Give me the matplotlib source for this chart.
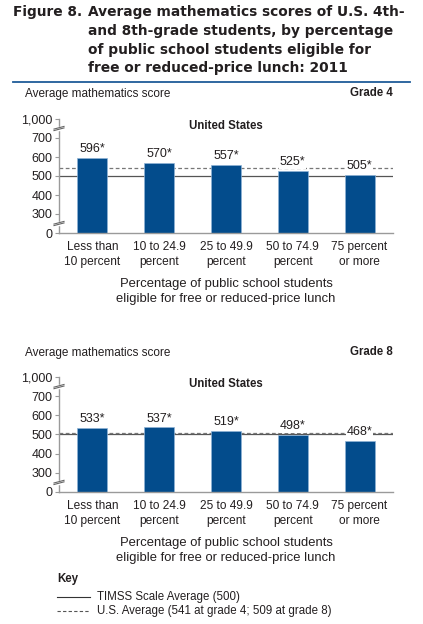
import numpy as np
import matplotlib
matplotlib.use('Agg')
import matplotlib.pyplot as plt
from matplotlib.lines import Line2D

# data
categories = ['Less than\n10 percent', '10 to 24.9\npercent', '25 to 49.9\npercent',
              '50 to 74.9\npercent', '75 percent\nor more']
grade4_scores = [596, 570, 557, 525, 505]
grade8_scores = [533, 537, 519, 498, 468]
timss_avg = 500
us_avg = {'Grade 4': 541, 'Grade 8': 509}
yticks = [0, 300, 400, 500, 600, 700, 1000]
ytick_labels = ['0', '300', '400', '500', '600', '700', '1,000']

plt.rcParams['font.family'] = ['Liberation Sans', 'DejaVu Sans']
txt_col = '#231f20'
bar_col = '#034c8c'
axis_col = '#9a9a9a'

# broken axis: 0-300 and 700-1000 squeezed into one step each
brk_in = [0, 300, 700, 1000]
brk_out = [200, 300, 700, 800]
def fwd(v):
    return np.interp(v, brk_in, brk_out)
def inv(v):
    return np.interp(v, brk_out, brk_in)

W, H = 423, 624
fig = plt.figure(figsize=(W/100, H/100), dpi=100)

def fx(px):
    return px / W
def fy(py):
    return 1 - py / H

# title
fig.text(fx(13), fy(12), 'Figure 8.', fontsize=9.9, fontweight='bold', family='DejaVu Sans',
         color=txt_col, va='center', ha='left')
title_lines = ['Average mathematics scores of U.S. 4th-',
               'and 8th-grade students, by percentage',
               'of public school students eligible for',
               'free or reduced-price lunch: 2011']
for i, line in enumerate(title_lines):
    fig.text(fx(88), fy(12 + i * 18.8), line, fontsize=9.9, fontweight='bold',
             family='DejaVu Sans', color=txt_col, va='center', ha='left')
fig.add_artist(Line2D([fx(13), fx(410)], [fy(82), fy(82)], color='#1f5c99', lw=1.3))

def panel(top_px, ax_top, ax_bot, scores, grade):
    fig.text(fx(25), fy(top_px), 'Average mathematics score', fontsize=8.5, color=txt_col,
             va='center', ha='left')
    fig.text(fx(393), fy(top_px - 1), grade, fontsize=8.3, fontweight='bold', color=txt_col,
             va='center', ha='right')
    ax = fig.add_axes([fx(59), fy(ax_bot), fx(393) - fx(59), fy(ax_top) - fy(ax_bot)])
    ax.set_yscale('function', functions=(fwd, inv))
    x = np.arange(len(scores))
    ax.axhline(timss_avg, color='#555555', lw=0.9, zorder=1)
    ax.axhline(us_avg[grade], color='#777777', lw=0.9, ls=(0, (3, 2)), zorder=1)
    bars = ax.bar(x, scores, width=0.45, color=bar_col, edgecolor='#8fb3d6', lw=0.5, zorder=2)
    for b, s in zip(bars, scores):
        ax.annotate(f'{s}*', (b.get_x() + b.get_width() / 2, s), xytext=(0, 2),
                    textcoords='offset points', ha='center', va='bottom', fontsize=9,
                    color=txt_col, zorder=4,
                    bbox=dict(boxstyle='square,pad=0.05', fc='white', ec='none'))
    ax.set_xlim(-0.5, len(scores) - 0.5)
    ax.set_ylim(0, 1000)
    ax.set_yticks(yticks)
    ax.set_yticklabels(ytick_labels)
    ax.set_xticks(x)
    ax.set_xticklabels(categories, linespacing=1.35)
    ax.tick_params(axis='x', length=0, pad=6, labelsize=8.6, labelcolor=txt_col)
    ax.tick_params(axis='y', length=3, width=0.8, color=axis_col, pad=1.5,
                   labelsize=9, labelcolor=txt_col)
    ax.minorticks_off()
    for side in ['top', 'right']:
        ax.spines[side].set_visible(False)
    for side in ['left', 'bottom']:
        ax.spines[side].set_color(axis_col)
        ax.spines[side].set_linewidth(1.0)
    ax.set_xlabel('Percentage of public school students\neligible for free or reduced-price lunch',
                  fontsize=9.4, color=txt_col, labelpad=7, linespacing=1.3)
    ax.text(0.5, 0.94, 'United States', transform=ax.transAxes, ha='center', va='center',
            fontsize=8.3, fontweight='bold', color=txt_col)
    # axis break marks
    tr = ax.get_yaxis_transform()
    for v in [150, 850]:
        yc = fwd(v)
        ax.plot([0, 0], [inv(yc - 4), inv(yc + 4)], color='white', lw=2.5, transform=tr,
                clip_on=False, zorder=5)
        for d in [-4, 4]:
            ax.plot([-0.015, 0.015], [inv(yc + d - 7), inv(yc + d + 7)], color='#666666',
                    lw=0.8, transform=tr, clip_on=False, zorder=6)
    return ax

panel(94, 119, 233, grade4_scores, 'Grade 4')
panel(353, 377, 492, grade8_scores, 'Grade 8')

# key
fig.text(fx(57), fy(579), 'Key', fontsize=8.3, fontweight='bold', color=txt_col, va='center')
fig.add_artist(Line2D([fx(57), fx(90)], [fy(597), fy(597)], color='#333333', lw=0.8))
fig.text(fx(97), fy(597), 'TIMSS Scale Average (500)', fontsize=8.3, color=txt_col, va='center')
fig.add_artist(Line2D([fx(57), fx(90)], [fy(611), fy(611)], color='#555555', lw=0.8,
                      ls=(0, (3, 2))))
fig.text(fx(97), fy(611), 'U.S. Average (541 at grade 4; 509 at grade 8)', fontsize=8.3,
         color=txt_col, va='center')

fig.savefig('out.png', dpi=100)
